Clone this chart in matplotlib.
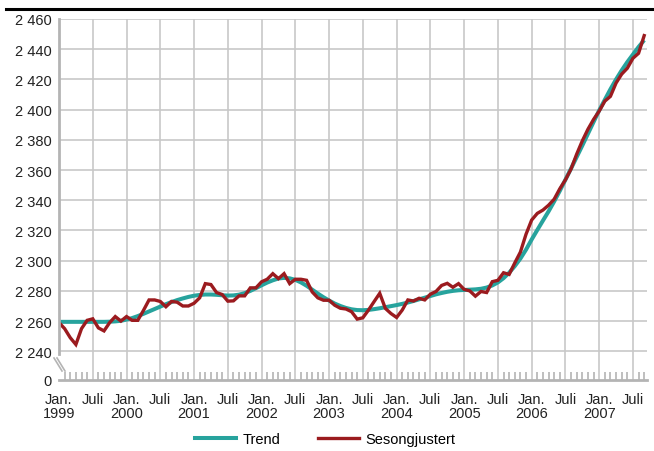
import matplotlib
matplotlib.use("Agg")
import matplotlib.pyplot as plt
from matplotlib.lines import Line2D
import numpy as np

plt.rcParams['font.family'] = ['Liberation Sans', 'DejaVu Sans']

# Monthly data, Jan 1999 - Sep 2007 (thousands)
trend = [
    2259.5, 2259.5, 2259.5, 2259.5, 2259.5, 2259.5, 2259.5, 2259.5, 2259.5, 2259.6, 2259.8, 2260.2,
    2261.0, 2262.0, 2263.3, 2264.8, 2266.4, 2268.0, 2269.6, 2271.2, 2272.6, 2273.9, 2275.0, 2276.0,
    2276.8, 2277.3, 2277.6, 2277.6, 2277.4, 2277.1, 2276.9, 2277.0, 2277.5, 2278.5, 2280.0, 2281.8,
    2283.7, 2285.5, 2287.0, 2288.2, 2288.6, 2288.3, 2287.3, 2285.6, 2283.4, 2280.8, 2278.2, 2275.8,
    2273.6, 2271.6, 2270.0, 2268.7, 2267.8, 2267.3, 2267.2, 2267.4, 2267.9, 2268.5, 2269.2, 2269.9,
    2270.6, 2271.4, 2272.3, 2273.3, 2274.4, 2275.5, 2276.6, 2277.7, 2278.6, 2279.4, 2280.0, 2280.4,
    2280.6, 2280.8, 2281.0, 2281.4, 2282.2, 2283.6, 2285.6, 2288.4, 2292.0, 2296.4, 2301.4, 2307.3,
    2314.0, 2320.3, 2326.5, 2332.6, 2339.2, 2346.2, 2353.6, 2361.0, 2368.6, 2376.2, 2384.0, 2391.8,
    2399.5, 2406.5, 2413.5, 2420.0, 2426.0, 2431.5, 2436.5, 2441.5, 2446.0,
]
sesongjustert = [
    2259.0, 2255.0, 2249.0, 2244.5, 2255.0, 2260.5, 2261.5, 2255.5, 2253.5, 2259.0, 2263.0, 2260.0,
    2263.0, 2260.5, 2260.5, 2267.0, 2274.0, 2274.0, 2273.0, 2269.5, 2273.0, 2272.5, 2270.0, 2270.0,
    2271.8, 2275.4, 2284.8, 2284.2, 2278.9, 2277.6, 2273.2, 2273.4, 2276.7, 2276.7, 2282.0, 2282.0,
    2286.0, 2287.7, 2291.4, 2288.1, 2291.4, 2284.8, 2287.7, 2287.7, 2287.0, 2279.3, 2275.4, 2273.8,
    2273.8, 2270.5, 2268.5, 2268.0, 2266.2, 2261.3, 2262.2, 2267.3, 2272.9, 2278.4, 2268.4, 2265.0,
    2262.4, 2267.3, 2274.0, 2273.3, 2275.1, 2274.0, 2277.8, 2279.6, 2283.6, 2285.0, 2282.4, 2284.8,
    2281.0, 2280.0, 2276.5, 2279.6, 2278.9, 2286.1, 2287.0, 2292.0, 2290.9, 2298.5, 2305.7, 2317.5,
    2326.9, 2331.3, 2333.5, 2336.7, 2340.7, 2347.6, 2353.5, 2360.7, 2370.5, 2379.3, 2387.0, 2393.5,
    2399.0, 2405.6, 2408.8, 2417.6, 2423.5, 2427.4, 2434.0, 2437.3, 2449.0,
]
years = [1999, 2000, 2001, 2002, 2003, 2004, 2005, 2006, 2007]
ytick_values = [2240, 2260, 2280, 2300, 2320, 2340, 2360, 2380, 2400, 2420, 2440, 2460]
series_names = ["Trend", "Sesongjustert"]

months = np.arange(len(trend))

W, H = 654, 452
fig = plt.figure(figsize=(W / 100, H / 100), dpi=100)
ax = fig.add_axes([59 / W, 1 - 381 / H, (647 - 59) / W, (381 - 20) / H])

grid_c = "#c8c8c8"
axis_c = "#b4b4b4"
teal = "#27a39d"
red = "#9b1b1f"

y_zero = 2221.0  # position of the "0" below the axis break
ax.set_xlim(0, len(trend) - 0.5)
ax.set_ylim(y_zero, 2460)

# horizontal gridlines
for v in ytick_values:
    ax.axhline(v, color=grid_c, lw=1.2, zorder=1)

# vertical gridlines every six months
major = np.arange(0, len(trend) + 1, 6)
for m in major[1:]:
    if m <= len(trend) - 0.5:
        ax.axvline(m, color=grid_c, lw=1.2, zorder=1)

ax.plot(months, trend, color=teal, lw=2.9, solid_capstyle='butt', zorder=3, label=series_names[0])
ax.plot(months, sesongjustert, color=red, lw=2.4, solid_joinstyle='miter', zorder=4, label=series_names[1])

# spines
for s in ['top', 'right']:
    ax.spines[s].set_visible(False)
ax.spines['bottom'].set_color(axis_c)
ax.spines['bottom'].set_linewidth(2.0)
ax.spines['left'].set_color(axis_c)
ax.spines['left'].set_linewidth(2.0)
ax.spines['left'].set_bounds(2238.0, 2460)
ax.spines['left'].set_zorder(5)

# break marks on the y axis
bt = ax.transAxes
dx = 1 / (647 - 59)
dy = 1 / (381 - 20)
for off in (0, 3):
    ax.plot([(-5 + off) * dx, (3 + off) * dx], [(381 - 359) * dy, (381 - 372) * dy],
            transform=bt, color=axis_c, lw=1.2, clip_on=False, zorder=5)

# y ticks
ax.set_yticks([y_zero] + ytick_values)
ax.set_yticklabels(["0"] + [f"{v // 1000} {v % 1000:03d}" for v in ytick_values])
ax.tick_params(axis='y', length=0, pad=5, labelsize=10.5, labelcolor="#222222")

# x ticks
labels = []
for m in major:
    if m % 12 == 0:
        labels.append(f"Jan.\n{years[m // 12]}")
    else:
        labels.append("Juli")
ax.set_xticks(major[major <= len(trend) - 0.5])
ax.set_xticklabels(labels[:len(major[major <= len(trend) - 0.5])])
ax.tick_params(axis='x', which='major', length=0, pad=9, labelsize=10.5, labelcolor="#222222")
for lab in ax.get_xticklabels():
    lab.set_linespacing(1.0)
ax.set_xticks(months, minor=True)
ax.tick_params(axis='x', which='minor', direction='in', length=6, width=1.2, color=axis_c)

# top rule
fig.add_artist(Line2D([6 / W, 1.0], [1 - 10 / H, 1 - 10 / H], color='black', lw=2.2))

# legend
handles = [Line2D([], [], color=teal, lw=2.9), Line2D([], [], color=red, lw=2.4)]
fig.legend(handles, series_names, loc='center', bbox_to_anchor=(0.497, 1 - 440 / H), ncol=2,
           frameon=False, fontsize=10.5, handlelength=2.8, handletextpad=0.45, columnspacing=2.6)

fig.savefig("out.png", dpi=100)
